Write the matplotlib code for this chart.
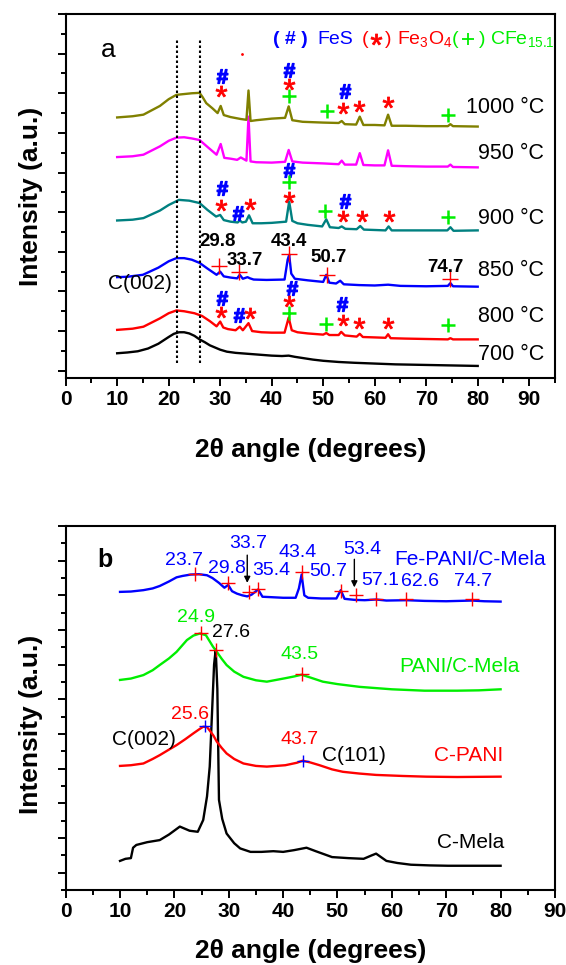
import matplotlib
matplotlib.use('Agg')
import matplotlib.pyplot as plt
from matplotlib.ticker import MultipleLocator

plt.rcParams['font.family'] = ['Liberation Sans', 'DejaVu Sans']
plt.rcParams['mathtext.fontset'] = 'custom'
plt.rcParams['mathtext.rm'] = 'Liberation Sans'
plt.rcParams['mathtext.it'] = 'Liberation Sans:italic'
plt.rcParams['mathtext.bf'] = 'Liberation Sans:bold'

# ---------------- Panel a data (2theta, stacked intensity) ----------------
x700 = [10, 12, 14, 16, 18, 20, 21, 22, 23, 24, 25, 26, 27, 28, 30, 31.3, 33, 36, 38, 40, 42, 43.3, 44.5, 46, 48, 50, 53, 56, 60, 64, 68, 72, 76, 80]
y700 = [0.44, 0.46, 0.49, 0.56, 0.68, 0.85, 0.93, 0.97, 0.97, 0.94, 0.88, 0.79, 0.72, 0.64, 0.53, 0.48, 0.45, 0.42, 0.40, 0.38, 0.37, 0.38, 0.35, 0.32, 0.28, 0.25, 0.22, 0.20, 0.18, 0.16, 0.15, 0.14, 0.13, 0.12]

x800 = [10, 13, 15.1, 18.3, 20, 21.5, 23, 25, 26.5, 28, 29.3, 30.0, 30.6, 31.5, 33, 33.8, 34.4, 35.5, 36.2, 38, 40, 42.5, 43.3, 43.9, 45, 47, 50, 50.6, 51.2, 53, 53.5, 54.2, 56.5, 57.1, 57.7, 60, 62.1, 62.6, 63.1, 66, 70, 74.2, 74.7, 75.2, 80]
y800 = [1.03, 1.06, 1.11, 1.32, 1.45, 1.52, 1.50, 1.45, 1.38, 1.25, 1.12, 1.24, 1.09, 1.05, 1.02, 1.11, 1.02, 1.20, 1.00, 0.97, 0.96, 0.96, 1.34, 1.02, 0.97, 0.94, 0.91, 0.95, 0.90, 0.90, 0.98, 0.89, 0.86, 0.93, 0.85, 0.84, 0.83, 0.92, 0.82, 0.81, 0.80, 0.79, 0.82, 0.79, 0.79]

x850 = [10, 12, 15, 18, 20, 21.5, 23, 24.5, 26, 27.5, 29.3, 30.0, 30.7, 32, 33.3, 33.8, 34.4, 35.3, 35.8, 36.5, 39, 42.5, 43.1, 43.4, 43.8, 44.5, 47, 50, 50.6, 51.2, 52.5, 53.3, 54, 57, 60, 62.6, 65, 70, 74.2, 74.7, 75.2, 80]
y850 = [2.36, 2.37, 2.42, 2.60, 2.76, 2.84, 2.84, 2.80, 2.72, 2.58, 2.42, 2.50, 2.38, 2.35, 2.33, 2.42, 2.32, 2.36, 2.33, 2.30, 2.29, 2.30, 2.80, 2.92, 2.45, 2.32, 2.28, 2.24, 2.42, 2.22, 2.20, 2.27, 2.18, 2.16, 2.15, 2.17, 2.14, 2.13, 2.14, 2.21, 2.13, 2.12]

x900 = [10, 13, 15.1, 18.3, 20, 22, 24, 26, 27.5, 29.2, 30.0, 30.7, 32, 33.4, 33.8, 34.3, 35.0, 35.6, 36.3, 38, 40, 42.8, 43.4, 44.0, 45, 47, 49.8, 50.6, 51.3, 53, 53.6, 54.3, 56.5, 57.2, 57.9, 60, 62.1, 62.7, 63.3, 66, 70, 74.1, 74.7, 75.3, 80]
y900 = [3.79, 3.81, 3.85, 4.04, 4.18, 4.31, 4.29, 4.23, 4.06, 3.89, 3.93, 3.80, 3.76, 3.74, 3.79, 3.74, 3.76, 3.92, 3.72, 3.72, 3.73, 3.76, 4.27, 3.78, 3.72, 3.68, 3.64, 3.82, 3.62, 3.60, 3.64, 3.58, 3.57, 3.65, 3.56, 3.55, 3.54, 3.64, 3.54, 3.54, 3.54, 3.54, 3.62, 3.53, 3.54]

x950 = [10, 13, 15.1, 18.3, 20, 21.5, 23, 24.5, 26, 27.5, 29.3, 30.1, 30.8, 32, 33.3, 34, 35.1, 35.5, 35.9, 37, 40, 42.6, 43.3, 44.0, 46, 50, 53, 53.6, 54.2, 56.4, 57.1, 57.8, 60, 61.9, 62.6, 63.3, 66, 70, 74.2, 74.7, 75.2, 80]
y950 = [5.39, 5.41, 5.45, 5.66, 5.80, 5.88, 5.89, 5.86, 5.82, 5.65, 5.45, 5.72, 5.37, 5.35, 5.32, 5.38, 5.30, 6.41, 5.28, 5.26, 5.25, 5.27, 5.57, 5.28, 5.25, 5.23, 5.21, 5.30, 5.20, 5.20, 5.49, 5.19, 5.18, 5.18, 5.56, 5.17, 5.16, 5.15, 5.15, 5.20, 5.14, 5.13]

x1000 = [10, 13, 15.1, 18.3, 20, 21.5, 23, 24.5, 26, 26.6, 27.3, 28.5, 29.5, 30.1, 30.7, 32, 34, 35.1, 35.5, 35.9, 37, 40, 42.6, 43.3, 44.0, 46, 50, 53, 53.6, 54.2, 56.4, 57.1, 57.8, 60, 61.9, 62.6, 63.3, 66, 70, 74.2, 74.7, 75.2, 80]
y1000 = [6.39, 6.42, 6.46, 6.68, 6.85, 6.96, 6.98, 7.00, 7.01, 6.90, 6.75, 6.62, 6.50, 6.68, 6.45, 6.40, 6.35, 6.33, 7.07, 6.30, 6.32, 6.36, 6.38, 6.67, 6.32, 6.28, 6.26, 6.25, 6.30, 6.22, 6.21, 6.41, 6.20, 6.20, 6.19, 6.46, 6.18, 6.18, 6.17, 6.17, 6.22, 6.17, 6.16]

temps = ['700 °C', '800 °C', '850 °C', '900 °C', '950 °C', '1000 °C']
temp_label_y = [0.42, 1.36, 2.54, 3.85, 5.49, 6.63]
colors_a = ['black', '#ff0000', '#0000ff', '#008080', '#ff00ff', '#808000']

# phase markers (x, y) in panel a
fes_x = [30.4, 43.4, 54.2, 30.4, 33.5, 43.4, 54.2, 30.4, 33.7, 43.9, 53.6]
fes_y = [7.44, 7.59, 7.05, 4.61, 3.99, 5.07, 4.29, 1.83, 1.41, 2.08, 1.68]
fe3o4_x = [30.2, 43.4, 53.9, 57.0, 62.6, 30.2, 35.8, 43.4, 53.9, 57.6, 62.7, 30.2, 35.8, 43.4, 53.9, 57.0, 62.6]
fe3o4_y = [7.05, 7.24, 6.63, 6.67, 6.77, 4.18, 4.21, 4.39, 3.91, 3.91, 3.91, 1.49, 1.45, 1.77, 1.28, 1.21, 1.21]
cfe_x = [43.4, 50.7, 74.2, 43.4, 50.4, 74.3, 43.4, 50.5, 74.2]
cfe_y = [6.92, 6.56, 6.46, 4.75, 4.04, 3.87, 1.45, 1.18, 1.15]

peaks850 = [29.8, 33.7, 43.4, 50.7, 74.7]
peaks850_y = [2.63, 2.50, 2.95, 2.42, 2.32]
peaks850_lbl = ['29.8', '33.7', '43.4', '50.7', '74.7']
c002_lines = [21.6, 26.1]

# ---------------- Panel b data ----------------
xfe = [10, 12, 14.3, 16, 17.3, 19, 20.4, 21.5, 23, 24.5, 26, 27, 28.2, 29.2, 29.9, 30.6, 31.5, 32.5, 33.4, 34.2, 35.4, 36.2, 37.5, 40, 42.3, 42.9, 43.4, 43.9, 44.6, 47, 49.8, 50.6, 51.3, 53.1, 55, 57.1, 59, 62.7, 66, 70, 74.7, 77, 80]
yfe = [8.10, 8.11, 8.15, 8.20, 8.27, 8.40, 8.52, 8.56, 8.60, 8.61, 8.58, 8.50, 8.36, 8.22, 8.30, 8.12, 8.05, 8.00, 7.97, 8.02, 8.17, 7.96, 7.95, 7.93, 7.93, 8.20, 8.60, 8.00, 7.93, 7.91, 7.91, 8.15, 7.90, 7.87, 7.86, 7.88, 7.85, 7.86, 7.84, 7.83, 7.85, 7.83, 7.82]

xpani = [10, 12, 14.3, 16, 17.3, 19, 20.4, 22.3, 23.5, 24.7, 25.8, 27.1, 27.8, 28.7, 29.6, 31, 32.7, 35, 37, 40.4, 42, 43.4, 45, 47.3, 50, 54.1, 60, 66, 72, 76, 80]
ypani = [5.56, 5.60, 5.70, 5.84, 5.99, 6.18, 6.37, 6.71, 6.84, 6.90, 6.85, 6.52, 6.37, 6.17, 5.99, 5.80, 5.65, 5.55, 5.51, 5.61, 5.66, 5.71, 5.63, 5.51, 5.44, 5.36, 5.29, 5.25, 5.25, 5.26, 5.29]

xcpani = [10, 12, 14.3, 16, 17.3, 19, 20.4, 22, 23.5, 24.6, 25.3, 26.0, 26.5, 27.2, 27.8, 28.7, 29.6, 31, 32.7, 35, 37, 40.4, 42.5, 43.6, 45, 46.7, 49, 51, 54, 57.1, 62, 66.3, 72, 80]
ycpani = [3.08, 3.10, 3.15, 3.28, 3.39, 3.55, 3.68, 3.85, 4.02, 4.14, 4.21, 4.20, 4.10, 3.95, 3.78, 3.60, 3.44, 3.28, 3.15, 3.08, 3.06, 3.10, 3.17, 3.23, 3.18, 3.10, 2.98, 2.91, 2.86, 2.82, 2.79, 2.77, 2.76, 2.77]

xmela = [10, 11, 12, 12.4, 13, 15, 17.3, 19, 21, 22.8, 24.3, 25.3, 26.0, 26.5, 27.0, 27.3, 27.6, 27.9, 28.2, 28.8, 29.6, 31, 32.1, 34, 36, 38.2, 40, 42, 44.3, 46, 49, 52, 54.8, 56.3, 57.1, 58, 59, 61, 63.5, 67, 70.3, 75, 80]
ymela = [0.34, 0.40, 0.42, 0.72, 0.80, 0.88, 0.94, 1.10, 1.33, 1.21, 1.18, 1.52, 2.20, 3.06, 4.90, 6.00, 6.44, 5.30, 2.10, 1.55, 1.13, 0.85, 0.70, 0.60, 0.60, 0.62, 0.60, 0.65, 0.72, 0.62, 0.45, 0.42, 0.40, 0.50, 0.55, 0.45, 0.34, 0.28, 0.23, 0.21, 0.20, 0.20, 0.20]

fe_peaks = [23.7, 29.8, 33.7, 35.4, 43.4, 50.7, 53.4, 57.1, 62.6, 74.7]
fe_peaks_y = [8.61, 8.36, 8.09, 8.17, 8.68, 8.13, 8.01, 7.89, 7.89, 7.89]
fe_lbl_pos = [(21.8, 9.0), (29.6, 8.78), (33.6, 9.5), (37.8, 8.71), (42.6, 9.23),
              (48.3, 8.68), (54.6, 9.31), (57.8, 8.44), (65.2, 8.39), (75.0, 8.39)]

# ---------------- figure ----------------
fig = plt.figure(figsize=(5.66, 9.65), dpi=100)
axa = fig.add_axes([0.116, 0.6083, 0.8645, 0.3772])
axb = fig.add_axes([0.116, 0.0777, 0.8645, 0.3772])

AST = r'$*$'


def style(ax, xmax, ylim):
    ax.set_xlim(0, xmax)
    ax.set_ylim(*ylim)
    ax.set_xticks(range(0, 91, 10))
    ax.set_xticklabels([str(v) for v in range(0, 91, 10)], fontweight='bold', fontsize=15)
    ax.xaxis.set_minor_locator(MultipleLocator(5))
    ax.yaxis.set_major_locator(MultipleLocator(1))
    ax.yaxis.set_minor_locator(MultipleLocator(0.5))
    ax.tick_params(which='both', direction='out', width=1.4, top=False, right=False)
    ax.tick_params(which='major', length=5.5)
    ax.tick_params(which='minor', length=3.5)
    ax.tick_params(axis='x', pad=3)
    ax.tick_params(axis='y', labelleft=False)
    for s in ax.spines.values():
        s.set_linewidth(1.5)


style(axa, 95, (-0.184, 9.0))
style(axb, 90, (-0.5, 10.0))

# panel a curves
for xs, ys, c in zip([x700, x800, x850, x900, x950, x1000],
                     [y700, y800, y850, y900, y950, y1000], colors_a):
    axa.plot(xs, ys, color=c, lw=1.7, solid_joinstyle='round')
for lab, yy in zip(temps, temp_label_y):
    axa.text(92.9, yy, lab, ha='right', va='center', fontsize=15.5)

for xv in c002_lines:
    axa.plot([xv, xv], [0.2, 8.37], color='black', lw=1.5, ls=(0, (1.2, 1.2)))

axa.plot(fes_x, fes_y, ls='none', marker=r'$\mathbf{\#}$', color='#0000ff', ms=10)
axa.plot(fe3o4_x, fe3o4_y, ls='none', marker=AST, color='#ff0000', ms=8, mew=0.6)
axa.plot(cfe_x, cfe_y, ls='none', marker='+', color='#00ee00', ms=9.5, mew=1.8)
axa.plot([34.2], [7.99], ls='none', marker='.', color='#ff0000', ms=2)

axa.plot(peaks850, peaks850_y, ls='none', marker='+', color='#ff0000', ms=11.5, mew=1)
lbl_off = [(-0.2, 0.63), (1.1, 0.27), (0.0, 0.32), (0.3, 0.44), (-0.9, 0.29)]
for px, py, lab, (dx, dy) in zip(peaks850, peaks850_y, peaks850_lbl, lbl_off):
    axa.text(px + dx, py + dy, lab, ha='center', va='center', fontsize=13.5, fontweight='bold')
axa.text(14.4, 2.19, 'C(002)', ha='center', va='center', fontsize=15)
axa.text(8.3, 8.1, 'a', ha='center', va='center', fontsize=19)

# legend line of panel a
ly = 8.36
fs_leg = 14
axa.text(40.3, ly, '( # )', color='#0000ff', fontsize=fs_leg, fontweight='bold', va='center')
axa.text(48.8, ly, 'FeS', color='#0000ff', fontsize=fs_leg, va='center')
axa.text(57.5, ly, '(', color='#ff0000', fontsize=fs_leg, va='center')
axa.plot([60.3], [ly], ls='none', marker=AST, color='#ff0000', ms=8, mew=0.6)
axa.text(61.9, ly, ')', color='#ff0000', fontsize=fs_leg, va='center')
axa.text(64.3, ly, 'Fe$_3$O$_4$', color='#ff0000', fontsize=fs_leg, va='center')
axa.text(75.0, ly, '(', color='#00ee00', fontsize=fs_leg, va='center')
axa.plot([78.2], [ly], ls='none', marker='+', color='#00ee00', ms=9, mew=1.3)
axa.text(80.2, ly, ')', color='#00ee00', fontsize=fs_leg, va='center')
axa.text(82.4, ly, 'CFe$_{15.1}$', color='#00ee00', fontsize=fs_leg, va='center')

# panel b curves
axb.plot(xmela, ymela, color='black', lw=1.7)
axb.plot(xcpani, ycpani, color='#ff0000', lw=1.7)
axb.plot(xpani, ypani, color='#00ee00', lw=1.7)
axb.plot(xfe, yfe, color='#0000ff', lw=1.7)

axb.plot(fe_peaks, fe_peaks_y, ls='none', marker='+', color='#ff0000', ms=10, mew=1)
for lab, (tx, ty) in zip(fe_peaks, fe_lbl_pos):
    axb.text(tx, ty, f'{lab}', ha='center', va='center', fontsize=14, color='#0000ff')
for xa, y0, y1 in [(33.4, 9.16, 8.36), (53.1, 9.04, 8.23)]:
    axb.annotate('', xy=(xa, y1), xytext=(xa, y0),
                 arrowprops=dict(arrowstyle='-|>', color='black', lw=1, mutation_scale=9,
                                 shrinkA=0, shrinkB=0))
axb.text(74.4, 9.04, 'Fe-PANI/C-Mela', ha='center', va='center', fontsize=15, color='#0000ff')

# PANI/C-Mela
axb.plot([24.9, 27.6, 43.5], [6.90, 6.42, 5.73], ls='none', marker='+', color='#ff0000', ms=10, mew=1)
axb.text(24.0, 7.37, '24.9', ha='center', va='center', fontsize=14, color='#00ee00')
axb.text(30.5, 6.92, '27.6', ha='center', va='center', fontsize=14, color='black')
axb.text(43.1, 6.28, '43.5', ha='center', va='center', fontsize=14, color='#00ee00')
axb.text(72.5, 5.94, 'PANI/C-Mela', ha='center', va='center', fontsize=15, color='#00ee00')

# C-PANI
axb.plot([25.6, 43.7], [4.23, 3.23], ls='none', marker='+', color='#0000ff', ms=9, mew=1)
axb.text(22.9, 4.55, '25.6', ha='center', va='center', fontsize=14, color='#ff0000')
axb.text(43.1, 3.85, '43.7', ha='center', va='center', fontsize=14, color='#ff0000')
axb.text(14.4, 3.83, 'C(002)', ha='center', va='center', fontsize=15, color='black')
axb.text(53.0, 3.39, 'C(101)', ha='center', va='center', fontsize=15, color='black')
axb.text(74.2, 3.39, 'C-PANI', ha='center', va='center', fontsize=15, color='#ff0000')
axb.text(74.5, 0.88, 'C-Mela', ha='center', va='center', fontsize=15, color='black')
axb.text(7.2, 9.02, 'b', ha='center', va='center', fontsize=18, fontweight='bold')

for ax, ylab_y, xlab_y in [(axa, 0.5, -0.165), (axb, 0.455, -0.135)]:
    ax.set_xlabel('2θ angle (degrees)', fontsize=19, fontweight='bold', va='top')
    ax.xaxis.set_label_coords(0.5, xlab_y)
    ax.set_ylabel('Intensity (a.u.)', fontsize=19, fontweight='bold', va='center')
    ax.yaxis.set_label_coords(-0.07, ylab_y)

fig.savefig('out.png', dpi=100)
